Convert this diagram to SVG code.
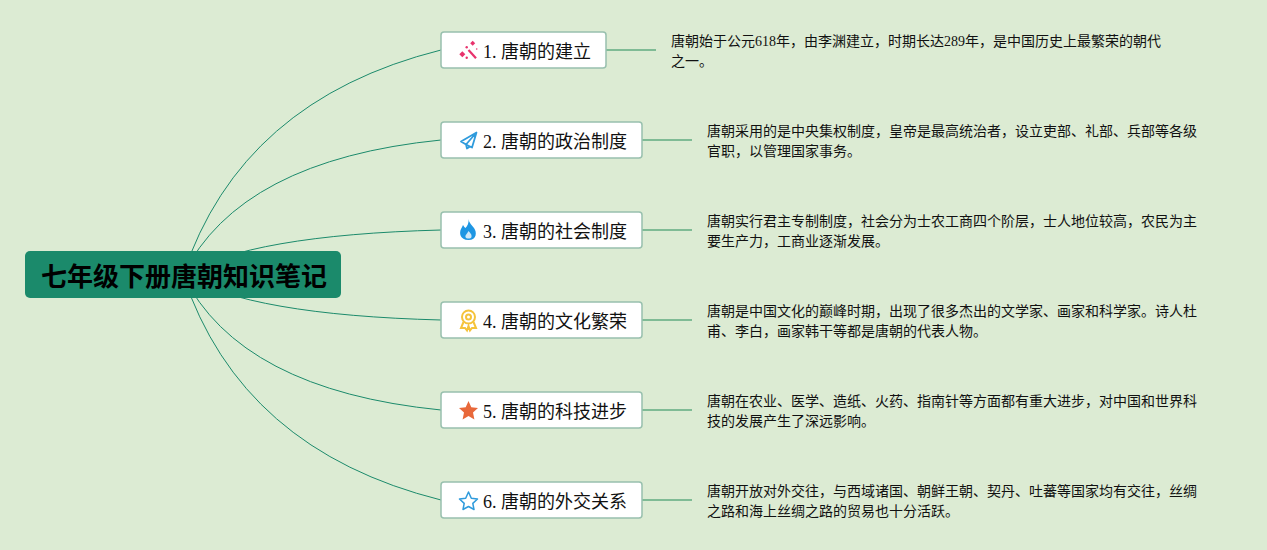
<svg xmlns="http://www.w3.org/2000/svg" width="1267" height="550" viewBox="0 0 1267 550">
<style>
.lab{font-family:"Liberation Serif","Noto Sans CJK SC",serif;font-size:18px;fill:#111}
.desc{font-family:"Liberation Serif","Noto Sans CJK SC",serif;font-size:14px;fill:#111}
.title{font-family:"Liberation Serif","Noto Sans CJK SC",serif;font-size:26px;font-weight:bold;fill:#000}
.box{fill:#fff;stroke:#98c0ae;stroke-width:1.5}
.c{fill:none;stroke:#1b8a6b;stroke-width:1}
.s{fill:none;stroke:#7fbb95;stroke-width:2}
</style>
<rect width="1267" height="550" fill="#dcebd3"/>
<g id="connectors">
<path class="c" d="M183 275Q241 100 441 50"/>
<path class="c" d="M183 275Q240 160 441 140"/>
<path class="c" d="M183 275Q250 235 441 230"/>
<path class="c" d="M183 275Q250 315 441 320"/>
<path class="c" d="M183 275Q240 390 441 410"/>
<path class="c" d="M183 275Q241 450 441 500"/>
<path class="s" d="M606 50H656"/>
<path class="s" d="M642 140H692"/>
<path class="s" d="M642 230H692"/>
<path class="s" d="M642 320H692"/>
<path class="s" d="M642 410H692"/>
<path class="s" d="M642 500H692"/>
</g>
<g id="root"><rect x="25" y="251" width="316" height="47" rx="5" fill="#1b8a6b"/><text class="title" x="41" y="286">七年级下册唐朝知识笔记</text></g>
<g id="n1"><rect class="box" x="441" y="32" width="165" height="36" rx="3"/>
<path d="M468.500 50L476 58.300" stroke="#e8336d" stroke-width="2.200" fill="none"/>
<g fill="#e8336d"><path d="M472.700 40.800L475.200 43.300L472.700 45.800L470.200 43.300Z"/><path d="M462.300 51.300L465.300 54.300L462.300 57.300L459.300 54.300Z"/><circle cx="466.700" cy="57.700" r="1.200"/><circle cx="466.700" cy="47.300" r="1.200"/><circle cx="476.700" cy="49" r="0.800"/></g>
<text class="lab" x="483" y="58">1. 唐朝的建立</text></g>
<g id="d1"><text class="desc" x="671" y="46">唐朝始于公元618年，由李渊建立，时期长达289年，是中国历史上最繁荣的朝代</text><text class="desc" x="671" y="66">之一。</text></g>
<g id="n2"><rect class="box" x="441" y="122" width="201" height="36" rx="3"/>
<path d="M476.500 132.500L461 141.500L466 144.500L472 147.500Z M476.500 132.500L466 144.500L467 148.500L470 146.500" fill="none" stroke="#2f9bdc" stroke-width="1.800" stroke-linejoin="round"/>
<text class="lab" x="483" y="148">2. 唐朝的政治制度</text></g>
<g id="d2"><text class="desc" x="707" y="136">唐朝采用的是中央集权制度，皇帝是最高统治者，设立吏部、礼部、兵部等各级</text><text class="desc" x="707" y="156">官职，以管理国家事务。</text></g>
<g id="n3"><rect class="box" x="441" y="212" width="201" height="36" rx="3"/>
<path d="M468.500 219C469 223 472 225 474 228C477 232 477 240 468.500 240C460 240 459 233 461 229C461.700 227.500 462.500 226.500 463 225C464 226.500 464.700 227.500 465.500 228C467.500 226 469 223 468.500 219Z" fill="#1e96e3"/>
<path d="M468.500 231C470 233 472 234 471.500 237C471 239 466 239 465.500 237C465 235 467 234 468.500 231Z" fill="#cfe8f8"/>
<text class="lab" x="483" y="238">3. 唐朝的社会制度</text></g>
<g id="d3"><text class="desc" x="707" y="226">唐朝实行君主专制制度，社会分为士农工商四个阶层，士人地位较高，农民为主</text><text class="desc" x="707" y="246">要生产力，工商业逐渐发展。</text></g>
<g id="n4"><rect class="box" x="441" y="302" width="201" height="36" rx="3"/>
<g fill="none" stroke="#f5c33b" stroke-width="2"><circle cx="468.500" cy="317" r="6.500"/><circle cx="468.500" cy="317" r="2.500"/><path d="M463.500 322L461 328L465 328L467 330.500L468.500 326L470 330.500L472 328L476 328L473.500 322"/></g>
<text class="lab" x="483" y="328">4. 唐朝的文化繁荣</text></g>
<g id="d4"><text class="desc" x="707" y="316">唐朝是中国文化的巅峰时期，出现了很多杰出的文学家、画家和科学家。诗人杜</text><text class="desc" x="707" y="336">甫、李白，画家韩干等都是唐朝的代表人物。</text></g>
<g id="n5"><rect class="box" x="441" y="392" width="201" height="36" rx="3"/>
<path d="M468.500 401L471.300 407.300L478 408L473 412.600L474.400 419.400L468.500 416L462.600 419.400L464 412.600L459 408L465.700 407.300Z" fill="#e8683a"/>
<text class="lab" x="483" y="418">5. 唐朝的科技进步</text></g>
<g id="d5"><text class="desc" x="707" y="406">唐朝在农业、医学、造纸、火药、指南针等方面都有重大进步，对中国和世界科</text><text class="desc" x="707" y="426">技的发展产生了深远影响。</text></g>
<g id="n6"><rect class="box" x="441" y="482" width="201" height="36" rx="3"/>
<path d="M468.500 492L471.300 498.300L477.500 499L472.800 503.400L474 509.500L468.500 506.500L463 509.500L464.200 503.400L459.500 499L465.700 498.300Z" fill="none" stroke="#2f9bdc" stroke-width="1.500" stroke-linejoin="round"/>
<text class="lab" x="483" y="508">6. 唐朝的外交关系</text></g>
<g id="d6"><text class="desc" x="707" y="496">唐朝开放对外交往，与西域诸国、朝鲜王朝、契丹、吐蕃等国家均有交往，丝绸</text><text class="desc" x="707" y="516">之路和海上丝绸之路的贸易也十分活跃。</text></g>
</svg>
